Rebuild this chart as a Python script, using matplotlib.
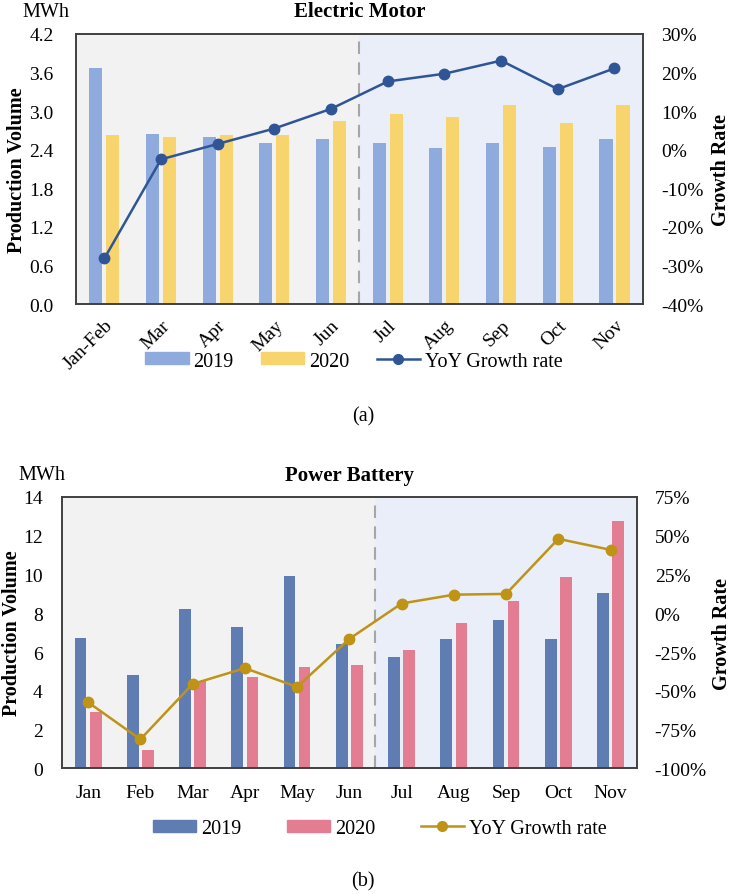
import matplotlib
matplotlib.use("Agg")
import matplotlib.pyplot as plt
import numpy as np
from matplotlib.patches import Patch
from matplotlib.lines import Line2D

plt.rcParams['font.family'] = ['Liberation Serif', 'DejaVu Serif']

# Electric motor data
motor_months = ['Jan-Feb', 'Mar', 'Apr', 'May', 'Jun', 'Jul', 'Aug', 'Sep', 'Oct', 'Nov']
motor_2019 = [3.67, 2.64, 2.60, 2.51, 2.56, 2.51, 2.43, 2.50, 2.45, 2.56]
motor_2020 = [2.63, 2.60, 2.63, 2.63, 2.84, 2.96, 2.91, 3.09, 2.82, 3.09]
motor_growth = [-28.2, -2.5, 1.5, 5.5, 10.6, 17.7, 19.7, 23.1, 15.7, 21.1]
motor_yticks = [0.0, 0.6, 1.2, 1.8, 2.4, 3.0, 3.6, 4.2]
motor_rticks = [-40, -30, -20, -10, 0, 10, 20, 30]

# Power battery data
battery_months = ['Jan', 'Feb', 'Mar', 'Apr', 'May', 'Jun', 'Jul', 'Aug', 'Sep', 'Oct', 'Nov']
battery_2019 = [6.75, 4.82, 8.21, 7.30, 9.92, 6.40, 5.73, 6.68, 7.64, 6.68, 9.05]
battery_2020 = [2.89, 0.93, 4.53, 4.72, 5.22, 5.34, 6.08, 7.49, 8.61, 9.87, 12.74]
battery_growth = [-57.4, -81.3, -45.6, -35.4, -47.5, -16.5, 6.3, 12.0, 12.5, 48.0, 40.9]
battery_yticks = [0, 2, 4, 6, 8, 10, 12, 14]
battery_rticks = [-100, -75, -50, -25, 0, 25, 50, 75]

fig = plt.figure(figsize=(7.33, 8.95), dpi=100)
FS = 14.5
TFS = 14


def draw_panel(rect, months, v19, v20, growth, yticks, rticks, split,
               c19, c20, cline, title, ylim, rlim, rotate, bw, off, lpad, tpad,
               left_x, right_x):
    ax = fig.add_axes(rect)
    n = len(months)
    x = np.arange(n)
    ax.axvspan(-0.5, split, color='#f2f2f2', zorder=0, lw=0)
    ax.axvspan(split, n - 0.5, color='#e9eef8', zorder=0, lw=0)
    ax.axvline(split, color='#a6a6a6', ls=(0, (6, 4)), lw=1.5, zorder=1)
    ax.bar(x - off, v19, bw, color=c19, zorder=2)
    ax.bar(x + off, v20, bw, color=c20, zorder=2)
    ax.set_xlim(-0.5, n - 0.5)
    ax.set_ylim(*ylim)
    ax.set_yticks(yticks)
    if isinstance(yticks[1], float):
        ax.set_yticklabels([f'{t:.1f}' for t in yticks], fontsize=TFS)
    else:
        ax.set_yticklabels([str(t) for t in yticks], fontsize=TFS)
    ax.set_xticks(x)
    if rotate:
        ax.set_xticklabels(months, fontsize=TFS, rotation=45, ha='right',
                           rotation_mode='anchor')
        ax.tick_params(axis='x', length=0, pad=9)
    else:
        ax.set_xticklabels(months, fontsize=TFS)
        ax.tick_params(axis='x', length=0, pad=11)
    ax.tick_params(axis='y', length=0, pad=lpad)
    for s in ax.spines.values():
        s.set_color('#404040')
        s.set_linewidth(1.2)

    ax2 = ax.twinx()
    ax2.plot(x, growth, color=cline, lw=1.8, marker='o', ms=7.5, zorder=3)
    ax2.set_ylim(*rlim)
    ax2.set_yticks(rticks)
    ax2.set_yticklabels([f'{t}%' for t in rticks], fontsize=TFS)
    ax2.tick_params(length=0, pad=13)
    for s in ax2.spines.values():
        s.set_color('#404040')
        s.set_linewidth(1.2)
    ax.set_title(title, fontsize=15, fontweight='bold', pad=tpad)

    ymid = rect[1] + rect[3] / 2
    fig.text(left_x, ymid, 'Production Volume', fontsize=FS, fontweight='bold',
             rotation=90, ha='center', va='center')
    fig.text(right_x, ymid, 'Growth Rate', fontsize=FS, fontweight='bold',
             rotation=90, ha='center', va='center')
    return ax, ax2


# (a) Electric motor
ax, ax2 = draw_panel([0.1037, 0.6592, 0.7733, 0.3017], motor_months, motor_2019,
                     motor_2020, motor_growth, motor_yticks, motor_rticks, 4.5,
                     '#8faadc', '#f7d46e', '#2f5597', 'Electric Motor',
                     (0, 4.2), (-40, 30), True, 0.23, 0.15, 16, 13,
                     17 / 733, 721 / 733)
fig.text(0.031, 0.986, 'MWh', fontsize=FS, va='center')
handles = [Patch(color='#8faadc'), Patch(color='#f7d46e'),
           Line2D([], [], color='#2f5597', lw=1.8, marker='o', ms=7)]
fig.legend(handles, ['2019', '2020', 'YoY Growth rate'], loc='center',
           bbox_to_anchor=(0.483, 0.5955), ncol=3, frameon=False, fontsize=FS,
           handlelength=2.15, handleheight=0.55, handletextpad=0.25,
           columnspacing=1.35)
fig.text(0.495, 0.534, '(a)', fontsize=FS, ha='center', va='center')

# (b) Power battery
bx, bx2 = draw_panel([0.0846, 0.1404, 0.784, 0.3032], battery_months, battery_2019,
                     battery_2020, battery_growth, battery_yticks, battery_rticks, 5.5,
                     '#5f7db3', '#e37d91', '#bf9316', 'Power Battery',
                     (0, 14), (-100, 75), False, 0.224, 0.144, 14, 12,
                     12 / 733, 722 / 733)
fig.text(0.025, 0.469, 'MWh', fontsize=FS, va='center')
handles = [Patch(color='#5f7db3'), Patch(color='#e37d91'),
           Line2D([], [], color='#bf9316', lw=1.8, marker='o', ms=7)]
fig.legend(handles, ['2019', '2020', 'YoY Growth rate'], loc='center',
           bbox_to_anchor=(0.518, 0.0735), ncol=3, frameon=False, fontsize=FS,
           handlelength=2.15, handleheight=0.55, handletextpad=0.25,
           columnspacing=2.25)
fig.text(0.495, 0.0145, '(b)', fontsize=FS, ha='center', va='center')

fig.savefig('out.png', dpi=100, facecolor='white')
